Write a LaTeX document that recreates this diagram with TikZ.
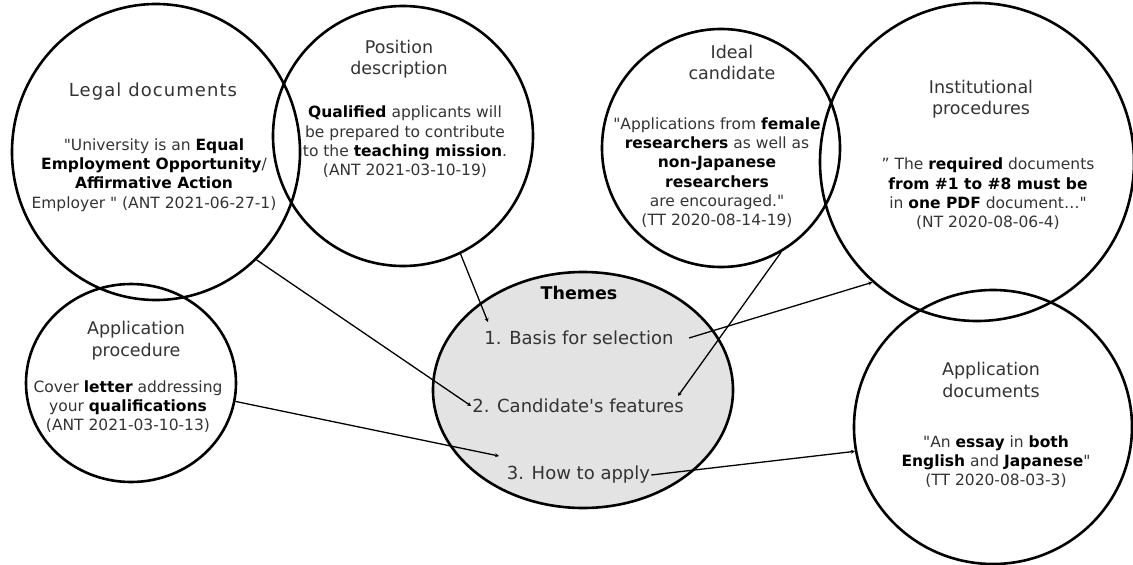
\documentclass[tikz,border=0pt]{standalone}
\usepackage{fontspec}
\setmainfont{DejaVu Sans}[Ligatures=TeXOff]
\usetikzlibrary{shapes.geometric,arrows.meta}
\definecolor{txt}{HTML}{333333}
\definecolor{themefill}{HTML}{E3E3E3}
\newcommand{\B}[1]{\textbf{\color{black}#1}}
\begin{document}
\begin{tikzpicture}[x=1pt,y=-1pt,
  circ/.style={draw, ellipse, line width=2.6pt, inner sep=0pt},
  ttl/.style={align=center, text=txt, font=\fontsize{17.5}{21.5}\selectfont},
  body/.style={align=center, text=txt, font=\fontsize{15.5}{19.3}\selectfont},
  themelbl/.style={text=txt, font=\fontsize{18}{22}\selectfont, inner sep=1pt},
  conn/.style={line width=1.3pt, -{Stealth[length=4pt,width=4pt]}}]
\useasboundingbox (0,0) rectangle (1133,565);

% Themes ellipse
\node[circ, fill=themefill, minimum width=300pt, minimum height=236pt] (themes) at (583,390) {};

% Outer circles
\node[circ, minimum width=288pt, minimum height=296pt] (legal) at (156,152) {};
\node[circ, minimum width=260pt, minimum height=260pt] (pos) at (403,136) {};
\node[circ, minimum width=238pt, minimum height=238pt] (ideal) at (721,148) {};
\node[circ, minimum width=314pt, minimum height=318pt] (inst) at (977,162) {};
\node[circ, minimum width=210pt, minimum height=198pt] (appproc) at (131,383) {};
\node[circ, minimum width=278pt, minimum height=274pt] (appdocs) at (993,427) {};

% Texts
\node[ttl, font=\fontsize{18}{21.5}\selectfont\addfontfeature{LetterSpace=6}] (legalT) at (153,92) {Legal documents};
\node[body] (legalB) at (154,175) {"University is an \B{Equal}\\ \B{Employment Opportunity}/\\ \B{Affirmative Action}\\ Employer " (ANT 2021-06-27-1)};

\node[ttl] (posT) at (399,59) {Position\\ description};
\node[body] (posB) at (405,142) {\B{Qualified} applicants will\\ be prepared to contribute\\ to the \B{teaching mission}.\\ (ANT 2021-03-10-19)};

\node[ttl] (idealT) at (732,62.5) {Ideal\\ candidate};
\node[body] (idealB) at (717,172.5) {"Applications from \B{female}\\ \B{researchers} as well as\\ \B{non-Japanese}\\ \B{researchers}\\ are encouraged."\\ (TT 2020-08-14-19)};

\node[ttl] (instT) at (981,99) {Institutional\\ procedures};
\node[body] (instB) at (988,194) {” The \B{required} documents\\ \B{from \#1 to \#8 must be}\\ in \B{one PDF} document…"\\ (NT 2020-08-06-4)};

\node[ttl] (appprocT) at (136,340.5) {Application\\ procedure};
\node[body] (appprocB) at (128,406.5) {Cover \B{letter} addressing\\ your \B{qualifications}\\ (ANT 2021-03-10-13)};

\node[ttl] (appdocsT) at (991,380) {Application\\ documents};
\node[body] (appdocsB) at (996,461.5) {"An \B{essay} in \B{both}\\ \B{English} and \B{Japanese}"\\ (TT 2020-08-03-3)};

\node[themelbl, font=\fontsize{17.5}{21}\selectfont\bfseries, text=black] (themesT) at (579,293) {Themes};
\node[themelbl] (b1) at (579,338) {1. Basis for selection};
\node[themelbl] (b2) at (578,406) {2. Candidate's features};
\node[themelbl] (b3) at (578.5,475) {3. How to apply};

% Connector free ends
\coordinate (e1) at (488,322);
\coordinate (e3) at (678,396);
\coordinate (e4) at (689,338);
\coordinate (e5) at (499,456);

% Connectors
\draw[conn] (pos.-64) -- (e1);
\draw[conn] (legal.-47) -- (b2.west);
\draw[conn] (ideal.-60) -- (e3);
\draw[conn] (e4) -- (inst.229);
\draw[conn] (appproc.-10) -- (e5);
\draw[conn] (b3.east) -- (appdocs.190);
\end{tikzpicture}
\end{document}
